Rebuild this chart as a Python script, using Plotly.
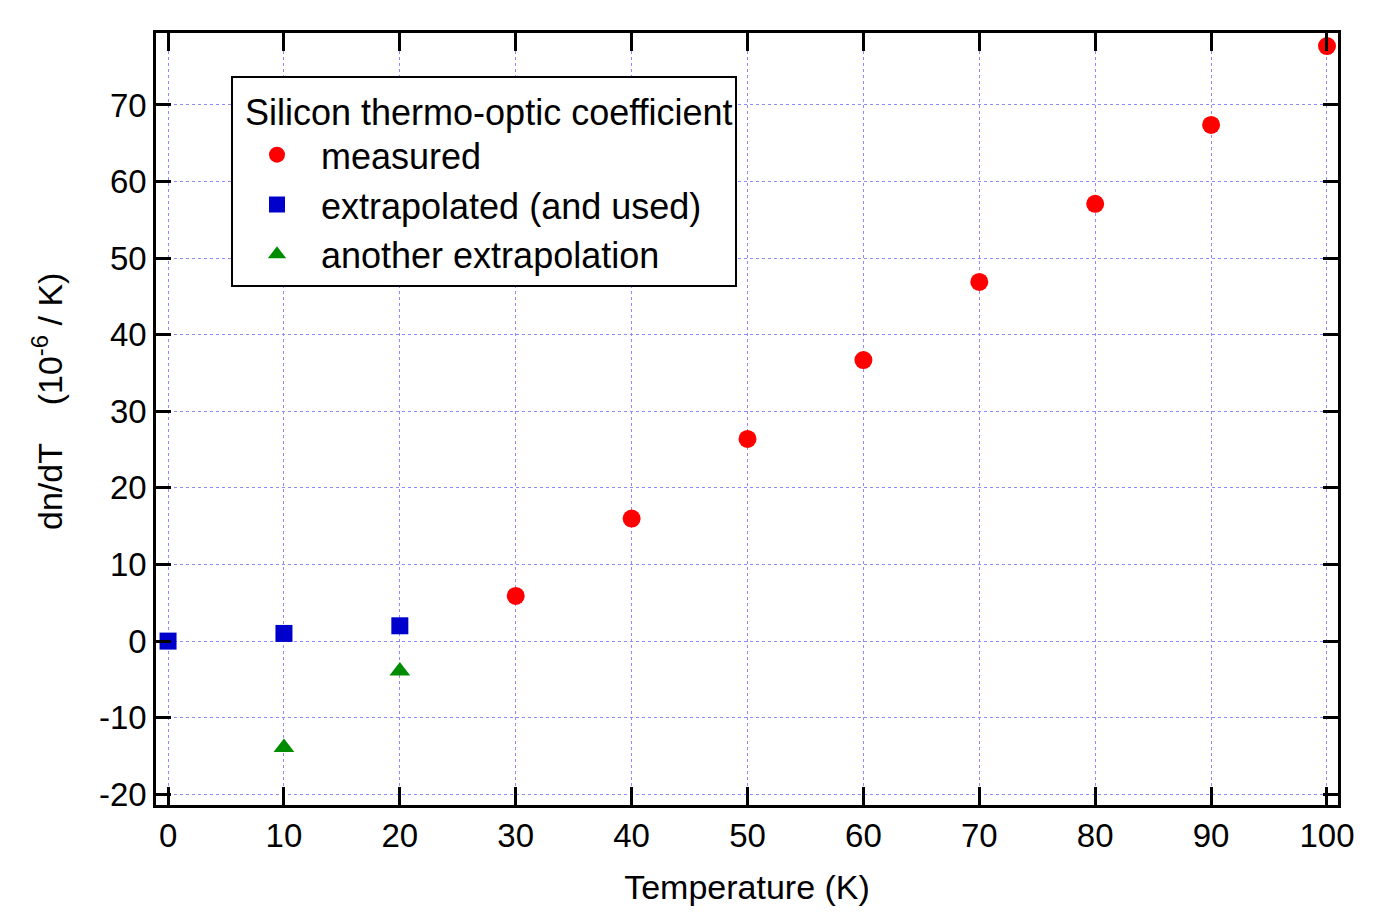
import plotly.graph_objects as go

measured_T = [30, 40, 50, 60, 70, 80, 90, 100]
measured_v = [5.9, 16.0, 26.4, 36.7, 46.9, 57.1, 67.4, 77.7]
extrap_T = [0, 10, 20]
extrap_v = [0.0, 1.0, 2.0]
another_T = [10, 20]
another_v = [-13.9, -3.9]
x_ticks = [0, 10, 20, 30, 40, 50, 60, 70, 80, 90, 100]
y_ticks = [-20, -10, 0, 10, 20, 30, 40, 50, 60, 70]
y_ticktext = ["-20", "-10", "0", "10", "20", "30", "40", "50", "60", "70"]

FONT = "Liberation Sans, Arial, sans-serif"
GRID = "#8c8cff"

# page offset of the plot div (body margin) is 8px
L, R, T, B = 148, 1330, 25, 797

fig = go.Figure()
fig.add_trace(go.Scatter(x=measured_T, y=measured_v, mode="markers", name="measured",
                         marker=dict(symbol="circle", size=18, color="#ff0000")))
fig.add_trace(go.Scatter(x=extrap_T, y=extrap_v, mode="markers", name="extrapolated (and used)",
                         marker=dict(symbol="square", size=17, color="#0000cc")))
fig.add_trace(go.Scatter(x=another_T, y=another_v, mode="markers", name="another extrapolation",
                         marker=dict(symbol="triangle-up", size=18, color="#008c00")))

axis_common = dict(
    showline=True, linecolor="black", linewidth=2.5, mirror="ticks",
    ticks="inside", tickcolor="black", tickwidth=2.5,
    showgrid=True, gridcolor=GRID, gridwidth=1, griddash="dot",
    zeroline=False, tickfont=dict(family=FONT, size=33, color="black"),
)

fig.update_xaxes(range=[-1.04, 100.95], tickvals=x_ticks, ticklen=18,
                 title=dict(text="Temperature (K)", font=dict(family=FONT, size=34, color="black"),
                            standoff=22),
                 **axis_common)
fig.update_yaxes(range=[-21.4, 79.4], tickvals=y_ticks, ticktext=y_ticktext, ticklen=15,
                 **axis_common)

fig.add_annotation(text="dn/dT\u00a0\u00a0\u00a0\u00a0(10<sup>-6</sup> / K)", textangle=-90,
                   xref="paper", yref="paper", x=(39 - L) / (R - L), y=(B - 394) / (B - T),
                   showarrow=False, xanchor="center", yanchor="middle",
                   font=dict(family=FONT, size=34, color="black"))

fig.update_layout(
    width=1400, height=915,
    margin=dict(l=L, r=1400 - R, t=T, b=915 - B),
    paper_bgcolor="white", plot_bgcolor="white",
    showlegend=True,
    legend=dict(
        title=dict(text="\u00a0Silicon thermo-optic coefficient",
                   font=dict(family=FONT, size=36, color="black")),
        font=dict(family=FONT, size=36, color="black"),
        x=(223 - L) / (R - L), y=(B - 68) / (B - T), xanchor="left", yanchor="top",
        bordercolor="black", borderwidth=2, bgcolor="white",
        itemwidth=78, tracegroupgap=0,
    ),
)

fig.write_html("out.html")
